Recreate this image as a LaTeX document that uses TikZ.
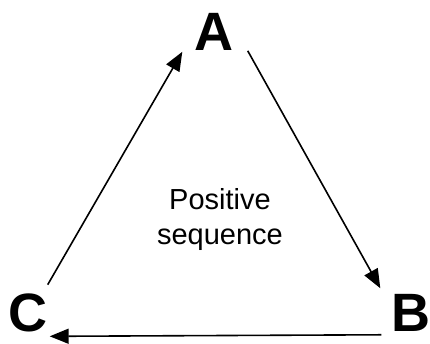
\documentclass[tikz,border=0pt]{standalone}
\usepackage{fontspec}
\setmainfont{Liberation Sans}
\usetikzlibrary{arrows.meta}
\tikzset{
  phase/.style={font=\fontsize{54}{54}\selectfont\bfseries, inner sep=0pt},
  rotarrow/.style={-{Triangle[length=19pt,width=15pt]}, line width=1.6pt}
}
\begin{document}
\begin{tikzpicture}[x=1pt,y=-1pt]
  \useasboundingbox (0,0) rectangle (430,343);

  % phase labels
  \node[phase] (A) at (214,32) {A};
  \node[phase] (B) at (411,313) {B};
  \node[phase] (C) at (28,313) {C};

  % centre text
  \node[font=\fontsize{29}{35}\selectfont, align=center, inner sep=0pt, anchor=north] (seq) at (220,188) {Positive\\sequence};

  % phase rotation arrows
  \draw[rotarrow] ([shift={(0,-9)}]C.north east) -- ([shift={(-12,1)}]A.south west);
  \draw[rotarrow] ([shift={(14,0)}]A.south east) -- ([shift={(-11,-6)}]B.north west);
  \draw[rotarrow] ([shift={(-10,3)}]B.south west) -- ([shift={(2,4)}]C.south east);

\end{tikzpicture}
\end{document}
